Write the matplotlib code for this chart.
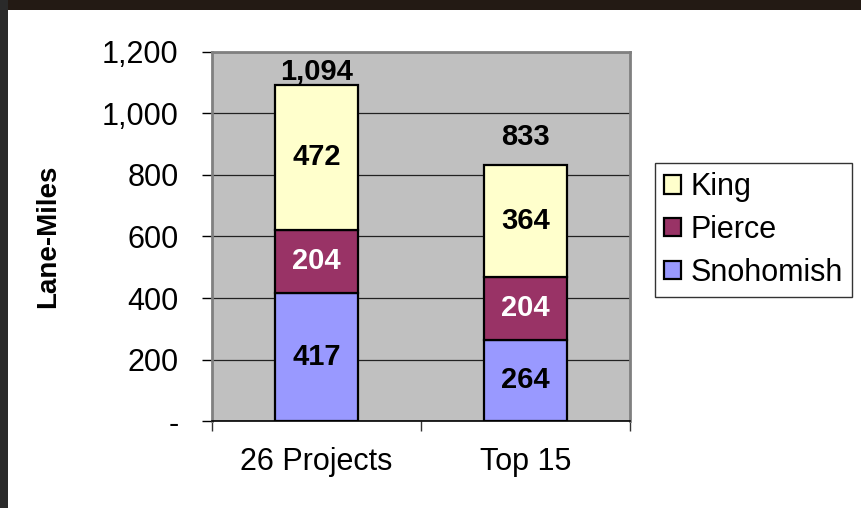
import matplotlib
matplotlib.use("Agg")
import matplotlib.pyplot as plt
from matplotlib.patches import Rectangle
from matplotlib.ticker import FuncFormatter

categories = ["26 Projects", "Top 15"]
snohomish = [417, 264]
pierce = [204, 204]
king = [472, 364]
totals = [1094, 833]
series_names = ["Snohomish", "Pierce", "King"]
yticks = [0, 200, 400, 600, 800, 1000, 1200]

colors = ["#9999FF", "#993366", "#FFFFCC"]
label_colors = ["black", "white", "black"]

plt.rcParams["font.family"] = ["Liberation Sans", "DejaVu Sans"]

fig = plt.figure(figsize=(8.62, 5.08), dpi=100)
fig.patch.set_facecolor("white")
# slide screenshot border
fig.patches.append(Rectangle((0, 1 - 10 / 508), 1, 10 / 508, transform=fig.transFigure,
                             facecolor="#231a14", edgecolor="none", zorder=0))
fig.patches.append(Rectangle((0, 0), 8 / 862, 1, transform=fig.transFigure,
                             facecolor="#2a2a2a", edgecolor="none", zorder=0))

ax = fig.add_axes([212 / 862, 1 - 421 / 508, (630 - 212) / 862, (421 - 52) / 508])
ax.set_facecolor("#C0C0C0")

x = list(range(len(categories)))
width = 0.4
bottoms = [0] * len(categories)
handles = []
data = [snohomish, pierce, king]
for vals, name, col in zip(data, series_names, colors):
    bars = ax.bar(x, vals, width, bottom=bottoms, color=col, edgecolor="black",
                  linewidth=1.6, label=name, zorder=3)
    handles.append(bars)
    bottoms = [b + v for b, v in zip(bottoms, vals)]

# segment labels
for si, (vals, lc) in enumerate(zip(data, label_colors)):
    base = [sum(d[i] for d in data[:si]) for i in range(len(categories))]
    for i, v in enumerate(vals):
        ax.annotate(f"{v:,}", (x[i], base[i] + v / 2), xytext=(0, 0),
                    textcoords="offset points", ha="center", va="center",
                    fontsize=21, fontweight="bold", color=lc, zorder=5)

# total labels
tot_offsets = [10, 20]
for i, t in enumerate(totals):
    ax.annotate(f"{t:,}", (x[i], bottoms[i]), xytext=(0, tot_offsets[i]),
                textcoords="offset points", ha="center", va="center",
                fontsize=21, fontweight="bold", color="black", zorder=5)

ax.set_ylim(0, 1200)
ax.set_xlim(-0.5, 1.5)
ax.set_yticks(yticks)
ax.yaxis.set_major_formatter(FuncFormatter(lambda v, p: "-" if v == 0 else f"{int(v):,}"))
ax.grid(axis="y", color="#222222", linewidth=0.9, zorder=1)
ax.set_axisbelow(True)

ax.set_xticks(x)
ax.set_xticklabels(categories)
ax.set_xticks([-0.5, 0.5, 1.5], minor=True)
ax.tick_params(axis="x", which="major", length=0, pad=19, labelsize=22)
ax.tick_params(axis="x", which="minor", length=7, width=1, color="#333333", direction="out")
ax.tick_params(axis="y", length=7, width=1, color="black", direction="out", labelsize=22, pad=17)

for s in ["top", "right", "left"]:
    ax.spines[s].set_color("#808080")
    ax.spines[s].set_linewidth(2)
ax.spines["bottom"].set_color("black")
ax.spines["bottom"].set_linewidth(1.2)

ax.set_ylabel("Lane-Miles", fontsize=20, fontweight="bold")
ax.yaxis.set_label_coords(-0.36, 0.5)

leg = fig.legend([handles[2], handles[1], handles[0]], ["King", "Pierce", "Snohomish"],
                 loc="upper left", bbox_to_anchor=(655 / 862, 1 - 163 / 508),
                 frameon=True, fancybox=False, edgecolor="black", fontsize=22,
                 handlelength=0.55, handleheight=0.55, handletextpad=0.3,
                 labelspacing=0.42, borderpad=0.3, borderaxespad=0)
leg.get_frame().set_linewidth(1)

fig.savefig("out.png", dpi=100, facecolor="white")
